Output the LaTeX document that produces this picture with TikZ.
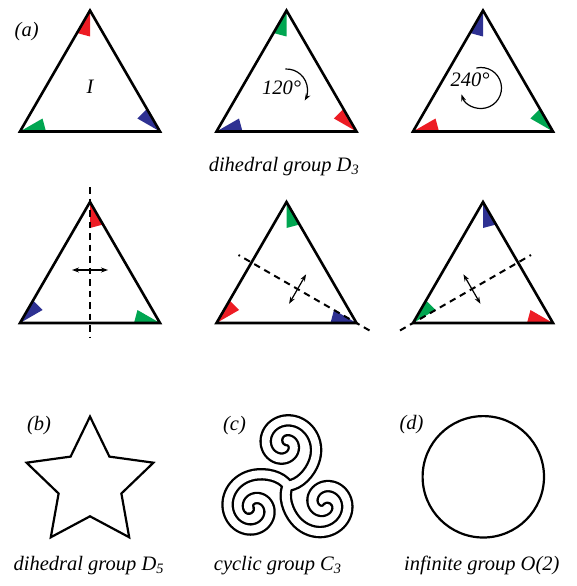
\documentclass[tikz,border=0pt]{standalone}
\usepackage{fontspec}
\setmainfont{Liberation Serif}
\usetikzlibrary{calc,arrows.meta}
\definecolor{wred}{RGB}{237,28,36}
\definecolor{wgreen}{RGB}{0,166,81}
\definecolor{wblue}{RGB}{46,49,146}
\newcommand\mktri[3]{%
  \coordinate (#1A) at (#2,#3);
  \coordinate (#1B) at ($(#2,#3)+(-70,121)$);
  \coordinate (#1C) at ($(#2,#3)+(70,121)$);
  \coordinate (#1Ma) at ($(#1B)!0.5!(#1C)$);
  \coordinate (#1Mb) at ($(#1A)!0.5!(#1C)$);
  \coordinate (#1Mc) at ($(#1A)!0.5!(#1B)$);
}
\newcommand\wdg[4]{\fill[#4] (#1) -- ($(#1)!26pt!(#2)$) -- ($(#1)!26pt!(#3)$) -- cycle;}
\newcommand\drawtri[1]{\draw[triline] (#1A) -- (#1B) -- (#1C) -- cycle;}
\newcommand\triarmpath{(0,0) .. controls (12,1) and (22.2,12.8) .. (26.3,24.1) -- plot[smooth, domain=-30:420, samples=80, variable=\t] ({-3+rr(\t)*cos(\t)}, {41+rr(\t)*sin(\t)})}
\begin{document}
\begin{tikzpicture}[x=1pt,y=-1pt,
  declare function={rr(\t)=5+19*(420-\t)/330+0.0002*(max(90-\t,0))^2;},
  lbl/.style={font=\fontsize{20.5}{24}\selectfont\itshape, inner sep=0pt, anchor=base},
  triline/.style={line width=2.6pt, line join=miter},
  mirror/.style={line width=2pt, dash pattern=on 6.5pt off 5pt},
  darrow/.style={line width=1.2pt, {Stealth[length=7pt,width=5pt]}-{Stealth[length=7pt,width=5pt]}},
  rotarrow/.style={line width=1.2pt, -{Stealth[length=7pt,width=5pt]}},
  outl/.style={line width=2.2pt, line join=miter},
  bandout/.style={line width=12.5pt, line cap=round, line join=round},
  bandin/.style={white, line width=7.9pt, line cap=round, line join=round}]
\useasboundingbox (0,0) rectangle (576,586);
% triangles
\mktri{T1}{90}{10.5}
\mktri{T2}{286.5}{10.5}
\mktri{T3}{483}{10.5}
\mktri{T4}{90}{202}
\mktri{T5}{286.5}{202}
\mktri{T6}{483}{202}
% row 1 wedges (rotations)
\wdg{T1A}{T1B}{T1Ma}{wred}\wdg{T1B}{T1C}{T1Mb}{wgreen}\wdg{T1C}{T1A}{T1Mc}{wblue}
\wdg{T2A}{T2B}{T2Ma}{wgreen}\wdg{T2B}{T2C}{T2Mb}{wblue}\wdg{T2C}{T2A}{T2Mc}{wred}
\wdg{T3A}{T3B}{T3Ma}{wblue}\wdg{T3B}{T3C}{T3Mb}{wred}\wdg{T3C}{T3A}{T3Mc}{wgreen}
% row 2 wedges (reflections)
\wdg{T4A}{T4C}{T4Ma}{wred}\wdg{T4B}{T4A}{T4Mb}{wblue}\wdg{T4C}{T4B}{T4Mc}{wgreen}
\wdg{T5A}{T5C}{T5Ma}{wgreen}\wdg{T5B}{T5A}{T5Mb}{wred}\wdg{T5C}{T5B}{T5Mc}{wblue}
\wdg{T6A}{T6C}{T6Ma}{wblue}\wdg{T6B}{T6A}{T6Mb}{wgreen}\wdg{T6C}{T6B}{T6Mc}{wred}
\drawtri{T1}\drawtri{T2}\drawtri{T3}\drawtri{T4}\drawtri{T5}\drawtri{T6}
% rotation arrows
\coordinate (R2) at (286.5,90);
\coordinate (R3) at (481,88);
\draw[rotarrow] ($(R2)+(-93:21)$) arc[start angle=-93, end angle=30, radius=21];
\draw[rotarrow] ($(R3)+(-103:20.5)$) arc[start angle=-103, end angle=162, radius=20.5];
% mirror lines
\draw[mirror] ($(T4A)!-15pt!(T4Ma)$) -- ($(T4Ma)!-15pt!(T4A)$);
\draw[mirror] ($(T5C)!-15pt!(T5Mc)$) -- ($(T5Mc)!-15pt!(T5C)$);
\draw[mirror] ($(T6B)!-15pt!(T6Mb)$) -- ($(T6Mb)!-15pt!(T6B)$);
\coordinate (P4) at ($(T4A)!68pt!(T4Ma)$);
\coordinate (P5) at ($(T5C)!68pt!(T5Mc)$);
\coordinate (P6) at ($(T6B)!68pt!(T6Mb)$);
\draw[darrow] ($(P4)!18pt!90:(T4A)$) -- ($(P4)!18pt!-90:(T4A)$);
\draw[darrow] ($(P5)!17pt!90:(T5C)$) -- ($(P5)!17pt!-90:(T5C)$);
\draw[darrow] ($(P6)!17pt!90:(T6B)$) -- ($(P6)!17pt!-90:(T6B)$);
% labels row 1
\node[lbl] (la) at (26.7,37) {(a)};
\node[lbl] (lI) at (90,93.3) {I};
\node[lbl] (l120) at (281.7,94.3) {120°};
\node[lbl] (l240) at (470,86) {240°};
\node[lbl] (lD3) at (284,171.7) {dihedral group D\textsubscript{3}};
% star
\coordinate (S) at (90,483.3);
\draw[outl] ($(S)+(-90:66.7)$) -- ($(S)+(-126:33)$) -- ($(S)+(-162:66.7)$) -- ($(S)+(-198:33)$)
  -- ($(S)+(-234:66.7)$) -- ($(S)+(-270:33)$) -- ($(S)+(-306:66.7)$) -- ($(S)+(-342:33)$)
  -- ($(S)+(-378:66.7)$) -- ($(S)+(-414:33)$) -- cycle;
% triskelion
\begin{scope}[shift={(287.8,485.6)}, yscale=-1]
  \foreach \a in {0,120,240}
    \draw[bandout, rotate=\a] \triarmpath;
  \foreach \a in {0,120,240}
    \draw[bandin, rotate=\a] \triarmpath;
\end{scope}
% circle
\coordinate (O2) at (483.3,476.8);
\draw[line width=2.2pt] (O2) circle[radius=60.7];
% labels bottom
\node[lbl] (lb) at (39,430.7) {(b)};
\node[lbl] (lc) at (234.5,430.7) {(c)};
\node[lbl] (ld) at (411.5,429) {(d)};
\node[lbl] (lD5) at (88.8,570.8) {dihedral group D\textsubscript{5}};
\node[lbl] (lC3) at (277.7,570.8) {cyclic group C\textsubscript{3}};
\node[lbl] (lO2) at (481.8,570.8) {infinite group O(2)};
\end{tikzpicture}
\end{document}
